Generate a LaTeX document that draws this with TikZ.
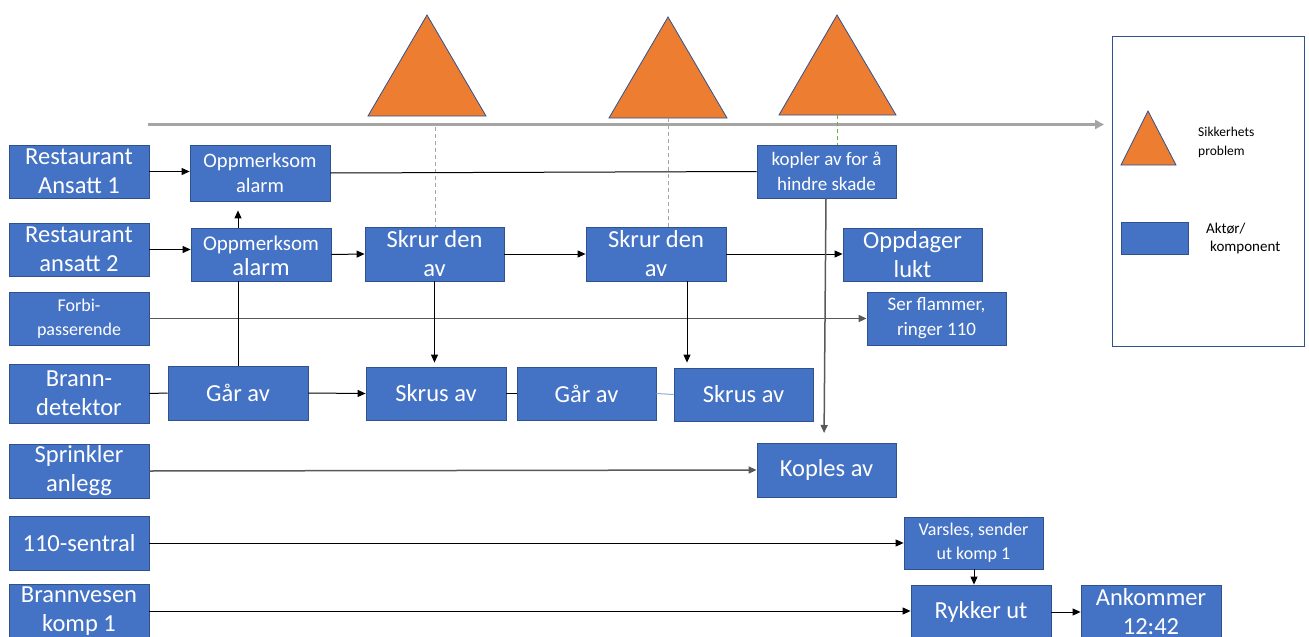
\documentclass[tikz,border=0pt]{standalone}
\usepackage{fontspec}
\setmainfont{Carlito}
\usetikzlibrary{arrows.meta,calc}

\definecolor{boxblue}{HTML}{4472C4}
\definecolor{boxedge}{HTML}{2F528F}
\definecolor{hazard}{HTML}{ED7D31}
\definecolor{timeline}{HTML}{A5A5A5}
\definecolor{darkline}{HTML}{595959}
\definecolor{greendash}{HTML}{70AD47}
\definecolor{paleblue}{HTML}{8FAADC}

\tikzset{
  box/.style={draw=boxedge, fill=boxblue, line width=0.8pt, inner sep=0pt},
  boxtext/.style={text=white, align=center, inner sep=0pt},
  big/.style={font=\fontsize{24.5}{29}\selectfont},
  mid/.style={font=\fontsize{19}{25}\selectfont},
  small/.style={font=\fontsize{18}{24}\selectfont},
  flow/.style={line width=1pt, -{Triangle[length=8pt,width=7pt]}},
  plain/.style={line width=1pt},
  grayflow/.style={draw=darkline, line width=1.5pt, -{Triangle[length=8pt,width=7pt]}},
  hazardtri/.style={fill=hazard, draw=boxedge, line width=0.8pt, line join=miter},
  marker/.style={line width=0.9pt, dash pattern=on 4pt off 3pt},
  legendtext/.style={text=black, align=left, inner sep=0pt, anchor=west},
}

% #1 name, #2 centre, #3 width, #4 height, #5 font style, #6 text
\newcommand\flowbox[6]{%
  \node[box, minimum width=#3pt, minimum height=#4pt] (#1) at (#2) {};
  \node[boxtext, #5] (#1-text) at (#1.center) {#6};
}

\begin{document}
\begin{tikzpicture}[x=1pt, y=-1pt]
\useasboundingbox (0,0) rectangle (1309,637);

% time axis
\coordinate (tl0) at (148,124.5);
\coordinate (tl1) at (1104,124.5);
\draw[draw=timeline, line width=3pt, -{Triangle[length=9pt,width=9pt]}] (tl0) -- (tl1);

% actors / components
\flowbox{ra1}{79,171.5}{140}{53}{big}{Restaurant\\Ansatt 1}
\flowbox{ra2}{79,249.5}{140}{53}{big}{Restaurant\\ansatt 2}
\flowbox{forbi}{79,318.5}{140}{53}{small}{Forbi-\\passerende}
\flowbox{brann}{79,393.5}{140}{59}{big}{Brann-\\detektor}
\flowbox{sprink}{79,471}{140}{54}{big}{Sprinkler\\anlegg}
\flowbox{sentral}{79,543}{140}{54}{big}{110-sentral}
\flowbox{vesen}{79,611}{140}{54}{big}{Brannvesen\\komp 1}

% events
\flowbox{alarm1}{260,173}{140}{56}{font=\fontsize{20.5}{25}\selectfont}{Oppmerksom\\alarm}
\node[box, minimum width=140pt, minimum height=53pt] (alarm2) at (261,254.5) {};
\node[boxtext] (alarm2-text) at ($(alarm2.center)+(0,1)$)
  {{\fontsize{21}{25}\selectfont Oppmerksom}\\[4pt]{\fontsize{24.5}{29}\selectfont alarm}};
\flowbox{gaar1}{238,393}{140}{54}{big}{Går av}
\flowbox{skrur1}{434.5,254}{139}{54}{big}{Skrur den\\av}
\flowbox{skrur2}{656,254}{140}{54}{big}{Skrur den\\av}
\flowbox{skrus1}{436,393.5}{140}{53}{big}{Skrus av}
\flowbox{gaar2}{586.5,393.5}{139}{53}{big}{Går av}
\flowbox{skrus2}{743.5,394.5}{139}{53}{big}{Skrus av}
\flowbox{kopler}{826.5,171.5}{139}{53}{mid}{kopler av for å\\hindre skade}
\flowbox{lukt}{912.5,254.5}{139}{53}{big}{Oppdager\\lukt}
\flowbox{ser}{936.5,318.5}{139}{53}{mid}{Ser flammer,\\ringer 110}
\flowbox{koples}{826.5,470}{139}{54}{big}{Koples av}
\flowbox{varsles}{973.5,543}{139}{52}{small}{Varsles, sender\\ut komp 1}
\flowbox{rykker}{981,612}{140}{54}{big}{Rykker ut}
\flowbox{ankommer}{1151,612}{140}{54}{big}{Ankommer\\12:42}

% safety problems on the time axis
\coordinate (t1top) at (427,15);
\coordinate (t1l) at (368,116);
\coordinate (t1r) at (486,116);
\coordinate (t2top) at (668,17);
\coordinate (t2l) at (609,118);
\coordinate (t2r) at (727,118);
\coordinate (t3top) at (837,15);
\coordinate (t3l) at (779,115);
\coordinate (t3r) at (896,115);
\filldraw[hazardtri] (t1top) -- (t1r) -- (t1l) -- cycle;
\filldraw[hazardtri] (t2top) -- (t2r) -- (t2l) -- cycle;
\filldraw[hazardtri] (t3top) -- (t3r) -- (t3l) -- cycle;

% markers from problems down to the events
\coordinate (m1) at (435,127);
\draw[marker, draw=timeline] (m1) -- (m1 |- skrur1.north);
\draw[marker, draw=timeline] (t2top |- t2l) -- (t2top |- skrur2.north);
\draw[marker, draw=greendash] (t3top |- t3l) -- (t3top |- kopler.north);

% crossing lines drawn first
\draw[grayflow] (forbi.east) -- (ser.west);
\draw[grayflow] (sprink.east) -- (koples.west);

% connectors
\draw[flow] (ra1.east) -- (alarm1.west |- ra1.east);
\draw[plain] (alarm1.east) -- (kopler.west);
\draw[flow] (ra2.east) -- (alarm2.west |- ra2.east);
\draw[flow] (alarm2.east) -- (skrur1.west);
\draw[flow] (skrur1.east) -- (skrur2.west);
\draw[flow] (skrur2.east) -- (lukt.west |- skrur2.east);
\draw[plain] (gaar1.north) -- (gaar1.north |- alarm2.south);
\draw[flow, shorten >=9pt] (gaar1.north |- alarm2.north) -- (gaar1.north |- alarm1.south);
\draw[flow, shorten >=4pt] (skrur1.south) -- (skrur1.south |- skrus1.north);
\coordinate (s2drop) at ($(skrur2.south)+(31,0)$);
\draw[flow, shorten >=5pt] (s2drop) -- (s2drop |- skrus2.north);
\draw[plain] (brann.east) -- (gaar1.west);
\draw[flow] (gaar1.east) -- (skrus1.west);
\draw[plain] (skrus1.east) -- (gaar2.west);
\draw[draw=paleblue, line width=1pt] (gaar2.east) -- (skrus2.west);
\coordinate (kdrop) at (826,198);
\coordinate (kend) at (824,443);
\draw[grayflow, shorten >=10pt] (kdrop) -- (kend);
\draw[flow] (sentral.east) -- (varsles.west |- sentral.east);
\draw[flow] (vesen.east) -- (rykker.west |- vesen.east);
\draw[flow] (rykker.east) -- (ankommer.west |- rykker.east);
\coordinate (vdrop) at (974,569);
\draw[flow] (vdrop) -- (vdrop |- rykker.north);

% legend
\node[draw=boxedge, line width=0.9pt, minimum width=192pt, minimum height=310pt, inner sep=0pt] (legend) at (1208,191) {};
\coordinate (l1top) at (1148,111);
\coordinate (l1l) at (1121,165);
\coordinate (l1r) at (1176,165);
\filldraw[hazardtri] (l1top) -- (l1r) -- (l1l) -- cycle;
\node[legendtext, font=\fontsize{13.5}{19}\selectfont] (legend-tri) at (1198,142) {Sikkerhets\\problem};
\node[box, minimum width=67pt, minimum height=32pt] (legend-box) at (1154.5,238) {};
\node[legendtext, font=\fontsize{15}{18}\selectfont] (legend-boxtext) at (1206,238) {Aktør/\\\hspace{4pt}komponent};
\end{tikzpicture}
\end{document}
